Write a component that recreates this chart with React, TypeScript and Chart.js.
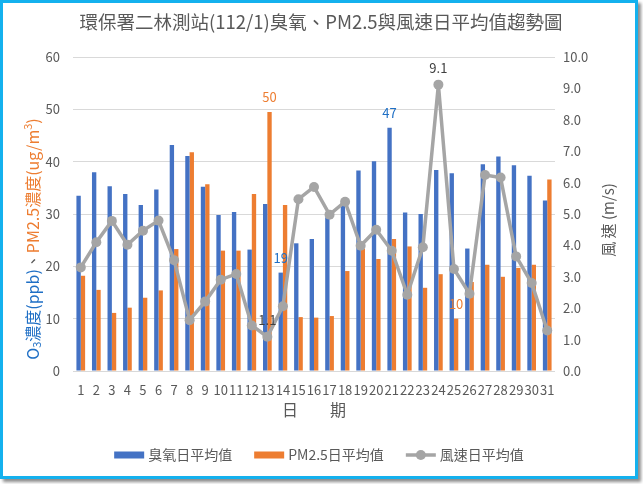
import React, { useEffect, useRef } from "react";
import { Chart, registerables } from "chart.js";

Chart.register(...registerables);

const FONT = "'Noto Sans CJK TC', 'Noto Sans', sans-serif";

const TITLE = "環保署二林測站(112/1)臭氧、PM2.5與風速日平均值趨勢圖";
const X_TITLE = "日　　期";
const Y2_TITLE = "風 速 (m/s)";

const days = Array.from({ length: 31 }, (_, i) => String(i + 1));

const o3 = [33.5, 38.0, 35.3, 33.8, 31.7, 34.7, 43.2, 41.1, 35.2, 29.8, 30.4, 23.2, 31.9, 18.8, 24.4, 25.2, 29.4, 31.6, 38.3, 40.1, 46.5, 30.3, 30.0, 38.4, 37.8, 23.4, 39.5, 41.0, 39.3, 37.3, 32.6];
const pm25 = [18.2, 15.5, 11.1, 12.1, 14.0, 15.4, 23.3, 41.8, 35.7, 23.0, 23.0, 33.8, 49.5, 31.7, 10.3, 10.2, 10.5, 19.1, 23.4, 21.4, 25.2, 23.8, 15.9, 18.5, 10.0, 17.0, 20.3, 18.0, 19.7, 20.3, 36.6];
const wind = [3.30, 4.10, 4.78, 4.02, 4.47, 4.79, 3.53, 1.62, 2.21, 2.91, 3.09, 1.45, 1.09, 2.06, 5.47, 5.86, 4.98, 5.39, 3.99, 4.50, 3.83, 2.43, 3.94, 9.12, 3.25, 2.46, 6.24, 6.16, 3.65, 2.80, 1.29];

const seriesNames = ["臭氧日平均值", "PM2.5日平均值", "風速日平均值"];

// labelled marks: [series (0 = o3, 1 = pm25, 2 = wind), dayIndex]
const labelledMarks: [number, number][] = [
  [0, 13],
  [0, 20],
  [1, 12],
  [1, 24],
  [2, 12],
  [2, 23],
];

const BLUE = "#4472c4";
const ORANGE = "#ed7d31";
const GRAY = "#a5a5a5";
const TEXT = "#595959";
const LABEL_COLORS = ["#1f6fc5", "#ed7d31", "#404040"];
const SERIES_TO_DATASET = [1, 2, 0];

const overlay = {
  id: "overlay",
  afterDraw(chart: any) {
    const ctx = chart.ctx as CanvasRenderingContext2D;
    const ca = chart.chartArea;
    ctx.save();
    ctx.textAlign = "center";
    ctx.textBaseline = "middle";
    ctx.fillStyle = TEXT;

    // title
    ctx.font = `18.5px ${FONT}`;
    ctx.fillText(TITLE, chart.width / 2 + 2, 19);

    // x title
    ctx.font = `16px ${FONT}`;
    ctx.fillText(X_TITLE, (ca.left + ca.right) / 2, 407);

    // right title
    ctx.save();
    ctx.font = `15px ${FONT}`;
    ctx.translate(605, 217);
    ctx.rotate(-Math.PI / 2);
    ctx.fillText(Y2_TITLE, 0, 0);
    ctx.restore();

    // left title, multi-colour
    const segs = [
      { t: "O", c: "#1f6fc5", s: 0 },
      { t: "3", c: "#1f6fc5", s: 1 },
      { t: "濃度(ppb)", c: "#1f6fc5", s: 0 },
      { t: "、", c: TEXT, s: 0 },
      { t: "PM2.5濃度(ug/m", c: ORANGE, s: 0 },
      { t: "3", c: ORANGE, s: -1 },
      { t: ")", c: ORANGE, s: 0 },
    ];
    const fMain = `16px ${FONT}`;
    const fSmall = `11px ${FONT}`;
    let total = 0;
    const widths = segs.map((sg) => {
      ctx.font = sg.s ? fSmall : fMain;
      const w = ctx.measureText(sg.t).width;
      total += w;
      return w;
    });
    ctx.save();
    ctx.translate(30, 236);
    ctx.rotate(-Math.PI / 2);
    ctx.textAlign = "left";
    let x = -total / 2;
    segs.forEach((sg, i) => {
      ctx.font = sg.s ? fSmall : fMain;
      ctx.fillStyle = sg.c;
      ctx.fillText(sg.t, x, sg.s === 1 ? 4 : sg.s === -1 ? -5 : 0);
      x += widths[i];
    });
    ctx.restore();

    // legend
    ctx.font = `14px ${FONT}`;
    const sw = 30, gap = 4, itemGap = 22;
    const tw = seriesNames.map((n) => ctx.measureText(n).width);
    const lw = tw.reduce((a, b) => a + b + sw + gap, 0) + itemGap * 2;
    let lx = chart.width / 2 - lw / 2;
    const ly = 452;
    const cols = [BLUE, ORANGE, GRAY];
    ctx.textAlign = "left";
    seriesNames.forEach((n, i) => {
      if (i < 2) {
        ctx.fillStyle = cols[i];
        ctx.fillRect(lx, ly - 3.5, sw, 7);
      } else {
        ctx.strokeStyle = GRAY;
        ctx.lineWidth = 3.5;
        ctx.beginPath();
        ctx.moveTo(lx, ly);
        ctx.lineTo(lx + sw, ly);
        ctx.stroke();
        ctx.fillStyle = GRAY;
        ctx.beginPath();
        ctx.arc(lx + sw / 2, ly, 5, 0, Math.PI * 2);
        ctx.fill();
      }
      ctx.fillStyle = TEXT;
      ctx.fillText(n, lx + sw + gap, ly);
      lx += sw + gap + tw[i] + itemGap;
    });

    // data labels
    ctx.font = `13px ${FONT}`;
    ctx.textAlign = "center";
    const all = [o3, pm25, wind];
    labelledMarks.forEach(([s, idx]) => {
      const el = chart.getDatasetMeta(SERIES_TO_DATASET[s]).data[idx];
      const v = all[s][idx];
      const txt = s === 2 ? v.toFixed(1) : String(Math.round(v));
      ctx.fillStyle = LABEL_COLORS[s];
      ctx.fillText(txt, el.x, el.y - (s === 2 ? 17 : 15));
    });

    ctx.restore();
  },
};

export default function App() {
  const ref = useRef<HTMLCanvasElement>(null);
  useEffect(() => {
    if (!ref.current) return;
    const chart = new Chart(ref.current, {
      type: "bar",
      data: {
        labels: days,
        datasets: [
          {
            type: "line",
            label: seriesNames[2],
            data: wind,
            yAxisID: "y2",
            borderColor: GRAY,
            backgroundColor: GRAY,
            borderWidth: 3.5,
            pointRadius: 5,
            pointBackgroundColor: GRAY,
            pointBorderColor: GRAY,
            pointBorderWidth: 0,
            tension: 0,
            order: 0,
          } as any,
          {
            type: "bar",
            label: seriesNames[0],
            data: o3,
            yAxisID: "y",
            backgroundColor: BLUE,
            barPercentage: 1,
            categoryPercentage: 0.56,
            order: 1,
          },
          {
            type: "bar",
            label: seriesNames[1],
            data: pm25,
            yAxisID: "y",
            backgroundColor: ORANGE,
            barPercentage: 1,
            categoryPercentage: 0.56,
            order: 1,
          },
        ],
      },
      options: {
        responsive: false,
        animation: false,
        devicePixelRatio: 1,
        layout: { padding: { left: 0, right: 0, top: 54, bottom: 0 } },
        plugins: {
          legend: { display: false },
          title: { display: false },
          tooltip: { enabled: false },
        },
        scales: {
          x: {
            grid: { display: false, drawTicks: false },
            border: { display: false },
            ticks: {
              color: TEXT,
              font: { family: FONT, size: 13 },
              autoSkip: false,
              maxRotation: 0,
              padding: 11,
            },
            afterFit: (s: any) => {
              s.height = 105;
            },
          },
          y: {
            position: "left",
            min: 0,
            max: 60,
            grid: { color: "#d9d9d9", lineWidth: 1, drawTicks: false },
            border: { display: false },
            ticks: {
              stepSize: 10,
              color: TEXT,
              font: { family: FONT, size: 13 },
              padding: 13,
            },
            afterFit: (s: any) => {
              s.width = 70;
            },
          },
          y2: {
            position: "right",
            min: 0,
            max: 10,
            grid: { drawOnChartArea: false, drawTicks: false },
            border: { display: false },
            ticks: {
              stepSize: 1,
              color: TEXT,
              font: { family: FONT, size: 13 },
              padding: 8,
              callback: (v: any) => Number(v).toFixed(1),
            },
            afterFit: (s: any) => {
              s.width = 80;
            },
          },
        },
      },
      plugins: [overlay],
    });
    return () => chart.destroy();
  }, []);

  return (
    <div
      style={{
        position: "fixed",
        left: 0,
        top: 0,
        width: 632,
        height: 473,
        border: "3px solid #14b1ee",
        boxShadow: "3px 3px 3px rgba(0,0,0,0.45)",
        background: "#fff",
      }}
    >
      <canvas ref={ref} width={632} height={473} style={{ display: "block" }} />
    </div>
  );
}
